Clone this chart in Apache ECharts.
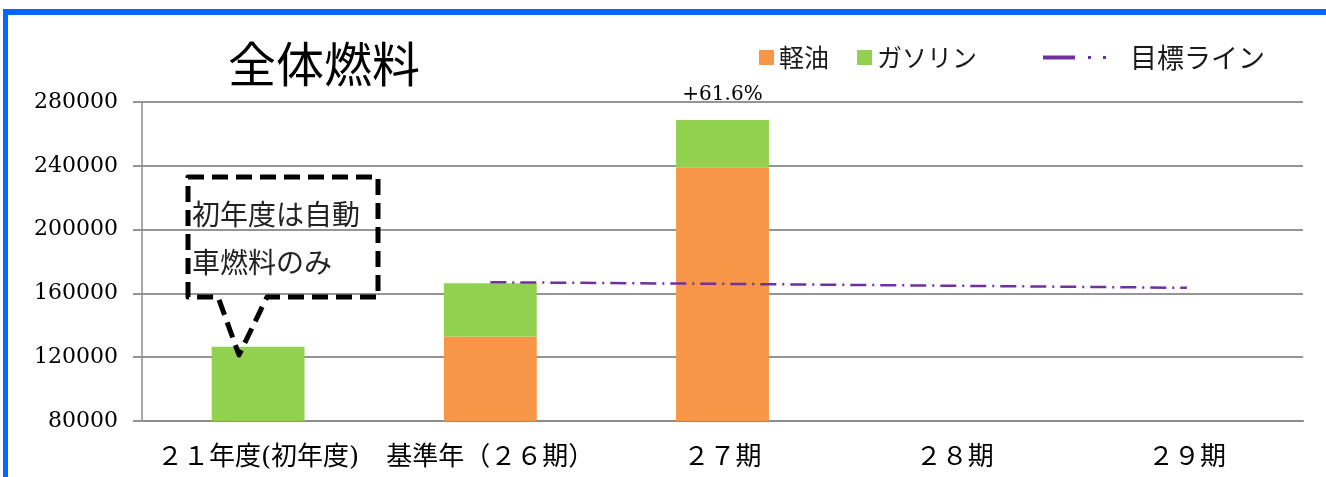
<!DOCTYPE html>
<html>
<head>
<meta charset="utf-8">
<script src="https://cdn.jsdelivr.net/npm/echarts@6/dist/echarts.min.js"></script>
<style>
  html, body { margin: 0; padding: 0; background: #fff; }
  #chart { width: 1326px; height: 477px; }
</style>
</head>
<body>
<div id="chart"></div>
<script>
// Fuel usage per period (stacked: diesel + gasoline) with the reduction target line
const categories = ['２１年度(初年度)', '基準年（２６期）', '２７期', '２８期', '２９期'];
const diesel = [0, 132900, 239100, null, null];
const gasoline = [126600, 33400, 29600, null, null];
const target = [null, 167000, 166000, 164800, 163500];
const yTicks = { min: 80000, max: 280000, step: 40000 };

// change of the 27期 total against the base year
const baseIndex = 1;
const changeIndex = 2;
const total = i => (diesel[i] || 0) + (gasoline[i] || 0);
const changePct = (total(changeIndex) / total(baseIndex) - 1) * 100;

const serif = '"DejaVu Serif", "Noto Sans CJK JP", serif';
const sans = '"Noto Sans CJK JP", "Noto Sans", sans-serif';

const chart = echarts.init(document.getElementById('chart'), null, { renderer: 'canvas' });

chart.setOption({
  animation: false,
  backgroundColor: '#ffffff',
  title: {
    text: '全体燃料',
    left: 228,
    top: 40,
    padding: 0,
    textStyle: { fontFamily: sans, fontSize: 48, fontWeight: 'normal', color: '#000' }
  },
  legend: [
    {
      data: ['軽油', 'ガソリン'],
      left: 759,
      top: 45,
      padding: 0,
      itemWidth: 15,
      itemHeight: 15,
      itemGap: 28,
      icon: 'rect',
      textStyle: { fontFamily: sans, fontSize: 25, color: '#1a1a1a' }
    },
    {
      data: ['目標ライン'],
      left: 1043,
      top: 44,
      padding: 0,
      itemWidth: 82,
      itemHeight: 4,
      icon: 'path://M0,0H32V4H0Z M45,0.5H48V3.5H45Z M60,0.5H63V3.5H60Z M81.99,0H82V4H81.99Z',
      textStyle: { fontFamily: sans, fontSize: 27, color: '#1a1a1a' }
    }
  ],
  grid: { left: 142, right: 23, top: 102, bottom: 56, containLabel: false, outerBoundsMode: 'none' },
  xAxis: {
    type: 'category',
    data: categories,
    axisLine: { show: true, lineStyle: { color: '#8c8c8c', width: 2 } },
    axisTick: { show: false },
    axisLabel: { interval: 0, margin: 24, fontFamily: serif, fontSize: 26, color: '#000' },
    splitLine: { show: false }
  },
  yAxis: {
    type: 'value',
    min: yTicks.min,
    max: yTicks.max,
    interval: yTicks.step,
    axisLine: { show: true, lineStyle: { color: '#8c8c8c', width: 1.5 } },
    axisTick: { show: true, inside: false, length: 9, lineStyle: { color: '#959595', width: 2 } },
    axisLabel: { margin: 24, fontFamily: serif, fontSize: 22, color: '#000', formatter: v => String(v) },
    splitLine: { show: true, lineStyle: { color: '#959595', width: 2 } }
  },
  series: [
    {
      name: '軽油',
      type: 'bar',
      stack: 'fuel',
      data: diesel,
      barCategoryGap: '60%',
      itemStyle: { color: '#F79646' }
    },
    {
      name: 'ガソリン',
      type: 'bar',
      stack: 'fuel',
      data: gasoline,
      barCategoryGap: '60%',
      itemStyle: { color: '#92D050' },
      label: {
        show: true,
        position: 'top',
        distance: 15,
        fontFamily: serif,
        fontSize: 20,
        color: '#000',
        formatter: p => p.dataIndex === changeIndex
          ? (changePct >= 0 ? '+' : '') + changePct.toFixed(1) + '%'
          : ''
      }
    },
    {
      name: '目標ライン',
      type: 'line',
      data: target,
      symbol: 'none',
      z: 5,
      itemStyle: { color: '#7030A0' },
      lineStyle: { color: '#7030A0', width: 2.5, type: [16, 6, 2, 6] }
    }
  ],
  graphic: [
    // frame lines along the top and left edges
    { type: 'rect', shape: { x: 3, y: 9, width: 1323, height: 6 }, style: { fill: '#0a64ff' }, z: 10 },
    { type: 'rect', shape: { x: 3, y: 9, width: 5, height: 468 }, style: { fill: '#0a64ff' }, z: 10 },
    // callout note on the first period
    {
      type: 'polygon',
      shape: {
        points: [[188, 177], [378, 177], [378, 297], [267, 297], [239, 355], [218, 297], [188, 297]]
      },
      style: { fill: null, stroke: '#000', lineWidth: 5, lineDash: [16, 8], lineJoin: 'round' },
      z: 20
    },
    {
      type: 'text',
      x: 192,
      y: 190,
      style: {
        text: '初年度は自動\n車燃料のみ',
        fontFamily: sans,
        fontSize: 28,
        lineHeight: 48,
        fill: '#222',
        textVerticalAlign: 'top'
      },
      z: 20
    }
  ]
});
</script>
</body>
</html>
